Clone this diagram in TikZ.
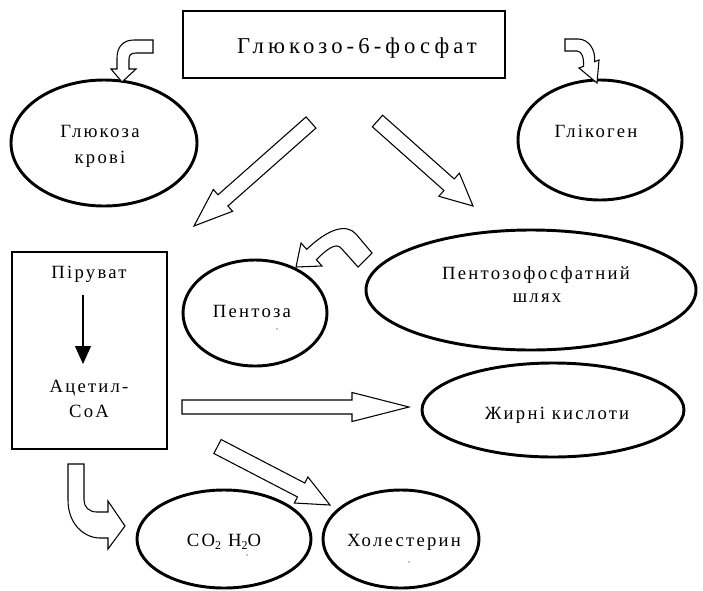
\documentclass[tikz,border=0pt]{standalone}
\usepackage{fontspec}
\setmainfont{Liberation Serif}
\newfontfamily\txtfont[LetterSpace=12]{Liberation Serif}
\newfontfamily\ttlfont[LetterSpace=18]{Liberation Serif}
\usetikzlibrary{shapes.geometric,calc,arrows.meta}
\tikzset{
  oval/.style={ellipse, draw, line width=2.2pt, inner sep=0pt},
  lbl/.style={font={\txtfont\fontsize{14}{16}\selectfont}, inner sep=0pt, anchor=base},
  ttl/.style={font={\ttlfont\fontsize{17}{19}\selectfont}, inner sep=0pt, anchor=base},
  blk/.style={draw, line width=0.8pt, fill=white, line join=miter},
}
\newcommand\blockarrow[5]{%
  \path ($(#2)!#5!(#1)$) coordinate (nk);
  \draw[blk] ($(#1)!#3!90:(#2)$) -- ($(nk)!#3!90:(#2)$) -- ($(nk)!#4!90:(#2)$) -- (#2)
     -- ($(nk)!#4!-90:(#2)$) -- ($(nk)!#3!-90:(#2)$) -- ($(#1)!#3!-90:(#2)$) -- cycle;}
\begin{document}
\begin{tikzpicture}[x=0.75pt,y=-0.75pt]
\useasboundingbox (0,0) rectangle (703,590);
% boxes
\node[draw, line width=2.2pt, minimum width=241.5pt, minimum height=50.25pt, inner sep=0pt] (g6f) at (344,44.5) {};
\node[draw, line width=0.9pt, minimum width=116.25pt, minimum height=147.75pt, inner sep=0pt] (pbox) at (89.5,350.5) {};
% ellipses
\node[oval, minimum width=139.5pt, minimum height=94.5pt] (glk) at (104,143) {};
\node[oval, minimum width=123pt, minimum height=90pt] (glg) at (600,140) {};
\node[oval, minimum width=247.5pt, minimum height=90pt] (pfs) at (531,290) {};
\node[oval, minimum width=108pt, minimum height=79.5pt] (pnt) at (255,313) {};
\node[oval, minimum width=196.5pt, minimum height=70.5pt] (zhk) at (553,410) {};
\node[oval, minimum width=130.5pt, minimum height=73.5pt] (co2) at (224,539) {};
\node[oval, minimum width=117pt, minimum height=73.5pt] (chl) at (401,539) {};
% texts
\node[ttl] (tg6f) at (357,53) {Глюкозо-6-фосфат};
\node[lbl] (tglk1) at (100,137) {Глюкоза};
\node[lbl] (tglk2) at (100,163) {крові};
\node[lbl] (tglg) at (596,137) {Глікоген};
\node[lbl] (tpfs1) at (536,279) {Пентозофосфатний};
\node[lbl] (tpfs2) at (537,302) {шлях};
\node[lbl] (tpnt) at (252,317) {Пентоза};
\node[lbl] (tpir) at (89,278) {Піруват};
\node[lbl] (tac1) at (89,392) {Ацетил-};
\node[lbl] (tac2) at (89,417) {CoA};
\node[lbl] (tzhk) at (557,419) {Жирні кислоти};
\node[lbl] (tco2) at (224,546) {CO{\fontsize{9}{9}\selectfont\raisebox{-2.5pt}{2}}\ H{\fontsize{9}{9}\selectfont\raisebox{-2.5pt}{2}}O};
\node[lbl] (tchl) at (404,546) {Холестерин};
% stray dots
\fill (277,329) circle (0.5pt);
\fill (247,555) circle (0.5pt);
\fill (409,562) circle (0.5pt);
% inner arrow
\coordinate (pa) at (83,295);
\coordinate (pb) at (83,364);
\draw[line width=0.8pt, -{Triangle[width=12pt,length=13.5pt]}] (pa) -- (pb);
% straight block arrows
\coordinate (lt) at (311,122.5); \coordinate (lh) at (194,226);
\blockarrow{lt}{lh}{5.6pt}{10.9pt}{29pt}
\coordinate (rt) at (377.5,121); \coordinate (rh) at (473,206);
\blockarrow{rt}{rh}{5.8pt}{11.6pt}{24pt}
\coordinate (ht) at (182,407); \coordinate (hh) at (409,407);
\blockarrow{ht}{hh}{5.25pt}{10.9pt}{42.75pt}
\coordinate (ct) at (217.5,446.5); \coordinate (ch) at (330,505);
\blockarrow{ct}{ch}{5.9pt}{11pt}{24.4pt}
% curved arrows
\draw[blk] (153,40) -- (134,40) .. controls (123,40) and (117,47) .. (117,58) -- (117,69) -- (111,69) -- (122,82)
  -- (136,69) -- (129,69) -- (129,59) .. controls (129,55) and (131,53) .. (136,53) -- (153,53) -- cycle;
\draw[blk] (565,39) -- (578,39) .. controls (588,39) and (596,49) .. (594.5,61.7) -- (599,60) -- (597,83)
  -- (579,68) -- (583.5,66.3) .. controls (584,58) and (582,51) .. (577,51) -- (565,51) -- cycle;
\draw[blk] (372,253) -- (356,234) .. controls (346,223) and (328,229) .. (306.7,249.3) -- (301,243) -- (296,267)
  -- (322,266) -- (316.3,259.7) .. controls (326,250) and (336,242) .. (341,248) -- (358,267) -- cycle;
\draw[blk] (68,464) -- (68,500) .. controls (68,525) and (85,538) .. (100,538) -- (108,538) -- (108,549) -- (125,526)
  -- (108,501) -- (108,512) -- (97,512) .. controls (89,512) and (84,507) .. (84,500) -- (84,464) -- cycle;
\end{tikzpicture}
\end{document}
